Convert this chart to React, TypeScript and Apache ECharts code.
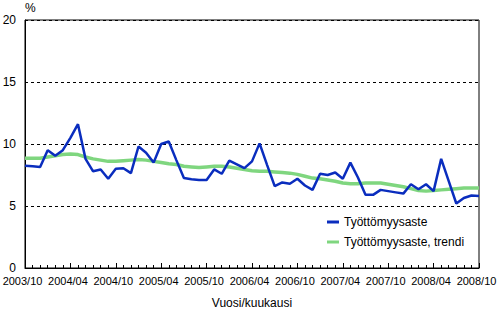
import React, { useEffect, useRef } from "react";
import * as echarts from "echarts";

const startYear = 2003;
const startMonth = 10;
const monthCount = 61;
const categories: string[] = [];
for (let i = 0; i < monthCount; i++) {
  const m = startMonth - 1 + i;
  const y = startYear + Math.floor(m / 12);
  const mm = (m % 12) + 1;
  categories.push(`${y}/${mm < 10 ? "0" + mm : mm}`);
}

const seriesNames = ["Työttömyysaste", "Työttömyysaste, trendi"];

const unemploymentRate = [
  8.25, 8.2, 8.15, 9.5, 9.05, 9.5, 10.5, 11.6, 8.8, 7.8, 7.95, 7.2, 8.0, 8.05, 7.65,
  9.8, 9.3, 8.5, 10.0, 10.2, 8.7, 7.25, 7.15, 7.1, 7.1, 7.95, 7.6, 8.65, 8.35, 8.05,
  8.6, 10.05, 8.3, 6.6, 6.9, 6.8, 7.2, 6.65, 6.3, 7.6, 7.5, 7.7, 7.2, 8.5, 7.3,
  5.9, 5.9, 6.3, 6.2, 6.1, 6.0, 6.75, 6.35, 6.75, 6.2, 8.8, 7.0, 5.2, 5.65, 5.85, 5.8,
];

const unemploymentTrend = [
  8.85, 8.85, 8.85, 8.95, 9.05, 9.15, 9.2, 9.15, 8.95, 8.8, 8.7, 8.6, 8.6, 8.65, 8.7,
  8.75, 8.7, 8.6, 8.5, 8.4, 8.35, 8.2, 8.15, 8.1, 8.15, 8.2, 8.2, 8.15, 8.05, 7.95,
  7.85, 7.8, 7.8, 7.75, 7.7, 7.65, 7.55, 7.4, 7.25, 7.2, 7.1, 7.0, 6.85, 6.8, 6.8,
  6.85, 6.85, 6.85, 6.75, 6.65, 6.55, 6.4, 6.25, 6.2, 6.25, 6.3, 6.35, 6.4, 6.45, 6.45, 6.45,
];

const yMin = 0;
const yMax = 20;
const yInterval = 5;

const FONT = "Arial, 'Liberation Sans', sans-serif";

export default function App() {
  const ref = useRef<HTMLDivElement>(null);
  useEffect(() => {
    if (!ref.current) return;
    const chart = echarts.init(ref.current, undefined, { renderer: "svg" });
    chart.setOption({
      animation: false,
      backgroundColor: "#ffffff",
      textStyle: { fontFamily: FONT },
      grid: {
        left: 25,
        right: 18,
        top: 20,
        bottom: 44,
        containLabel: false,
        outerBoundsMode: "none",
        show: true,
        borderColor: "#000",
        borderWidth: 1,
        backgroundColor: "transparent",
      },
      legend: {
        orient: "vertical",
        left: 322,
        top: 211,
        itemWidth: 12,
        itemHeight: 3,
        itemGap: 8,
        icon: "rect",
        textStyle: { fontSize: 12, color: "#000", fontFamily: FONT },
        data: [seriesNames[0], seriesNames[1]],
      },
      xAxis: [
        {
          type: "category",
          data: categories,
          boundaryGap: false,
          name: "Vuosi/kuukausi",
          nameLocation: "middle",
          nameGap: 29,
          nameTextStyle: { fontSize: 12, color: "#000", fontFamily: FONT },
          axisLine: { show: true, lineStyle: { color: "#000", width: 1 } },
          axisTick: { show: true, inside: true, length: 3, interval: 0, lineStyle: { color: "#000" } },
          axisLabel: {
            interval: 5,
            fontSize: 11,
            color: "#000",
            margin: 7,
            padding: [0, 5, 0, 0],
            fontFamily: FONT,
            hideOverlap: false,
          },
          splitLine: { show: false },
        },
        {
          type: "category",
          data: categories,
          boundaryGap: false,
          position: "bottom",
          axisLine: { show: false },
          axisTick: { show: true, inside: true, length: 5, interval: 5, lineStyle: { color: "#000" } },
          axisLabel: { show: false },
          splitLine: { show: false },
        },
      ],
      yAxis: {
        type: "value",
        min: yMin,
        max: yMax,
        interval: yInterval,
        name: "%",
        nameLocation: "end",
        nameGap: 6,
        nameTextStyle: { fontSize: 12, color: "#000", align: "left", fontFamily: FONT },
        axisLine: { show: true, lineStyle: { color: "#000", width: 1 } },
        axisTick: { show: false },
        axisLabel: { fontSize: 12, color: "#000", margin: 9, fontFamily: FONT },
        splitLine: { show: true, lineStyle: { color: "#000", type: [3, 3], width: 1 } },
      },
      series: [
        {
          name: seriesNames[1],
          type: "line",
          data: unemploymentTrend,
          symbol: "none",
          color: "#7fd67f",
          lineStyle: { color: "#7fd67f", width: 3.5 },
          z: 2,
        },
        {
          name: seriesNames[0],
          type: "line",
          data: unemploymentRate,
          symbol: "none",
          color: "#0a2dbe",
          lineStyle: { color: "#0a2dbe", width: 2.5 },
          z: 3,
        },
      ],
    });
    return () => chart.dispose();
  }, []);
  return (
    <div
      ref={ref}
      style={{ position: "fixed", left: 0, top: 0, width: 497, height: 312, background: "#fff" }}
    />
  );
}
